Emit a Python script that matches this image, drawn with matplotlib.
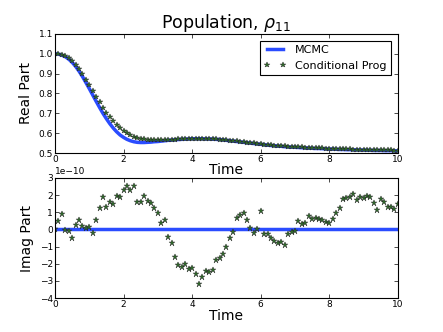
import matplotlib
matplotlib.use("Agg")
import matplotlib.pyplot as plt
import numpy as np

# time grid (step 0.1)
t = np.round(np.arange(0, 101) * 0.1, 1)

cond_real = [
    1.000, 0.999, 0.995, 0.988, 0.977, 0.962, 0.944, 0.922, 0.897, 0.870,
    0.842, 0.813, 0.784, 0.755, 0.728, 0.703, 0.680, 0.659, 0.641, 0.625,
    0.611, 0.600, 0.590, 0.583, 0.577, 0.572, 0.569, 0.566, 0.565, 0.564,
    0.564, 0.564, 0.565, 0.566, 0.567, 0.568, 0.569, 0.570, 0.571, 0.572,
    0.572, 0.573, 0.573, 0.573, 0.572, 0.572, 0.571, 0.570, 0.568, 0.567,
    0.565, 0.563, 0.561, 0.559, 0.557, 0.555, 0.553, 0.551, 0.549, 0.547,
    0.545, 0.543, 0.541, 0.539, 0.538, 0.536, 0.535, 0.533, 0.532, 0.531,
    0.530, 0.529, 0.528, 0.527, 0.526, 0.525, 0.524, 0.524, 0.523, 0.522,
    0.521, 0.521, 0.520, 0.519, 0.519, 0.518, 0.518, 0.517, 0.517, 0.516,
    0.516, 0.515, 0.515, 0.514, 0.514, 0.514, 0.513, 0.513, 0.513, 0.512,
    0.512,
]

mcmc_real = [
    1.000, 0.998, 0.993, 0.985, 0.973, 0.957, 0.937, 0.913, 0.886, 0.856,
    0.825, 0.793, 0.761, 0.730, 0.700, 0.673, 0.648, 0.626, 0.607, 0.591,
    0.579, 0.569, 0.562, 0.557, 0.554, 0.553, 0.553, 0.554, 0.555, 0.557,
    0.558, 0.560, 0.562, 0.564, 0.565, 0.567, 0.568, 0.569, 0.570, 0.571,
    0.572, 0.572, 0.572, 0.572, 0.571, 0.571, 0.570, 0.569, 0.568, 0.566,
    0.564, 0.562, 0.560, 0.558, 0.556, 0.554, 0.552, 0.550, 0.548, 0.546,
    0.544, 0.542, 0.540, 0.538, 0.537, 0.535, 0.534, 0.532, 0.531, 0.530,
    0.529, 0.528, 0.527, 0.526, 0.525, 0.524, 0.523, 0.523, 0.522, 0.521,
    0.520, 0.520, 0.519, 0.518, 0.518, 0.517, 0.517, 0.516, 0.516, 0.515,
    0.515, 0.514, 0.514, 0.513, 0.513, 0.513, 0.512, 0.512, 0.512, 0.511,
    0.511,
]

# imaginary part, units of 1e-10
cond_imag = [
    0.00, 0.51, 0.90, -0.01, -0.11, -0.48, 0.24, 0.57, 0.18, 0.08,
    0.14, -0.19, 0.53, 1.25, 1.89, 1.31, 1.60, 1.50, 1.95, 1.87,
    2.32, 2.51, 2.32, 2.55, 1.58, 1.58, 1.95, 1.66, 1.56, 1.25,
    0.96, 0.36, 0.53, -0.42, -0.77, -1.59, -2.05, -2.19, -2.00, -2.33,
    -2.25, -2.62, -3.16, -2.74, -2.41, -2.50, -2.39, -1.78, -1.67, -1.43,
    -1.00, -0.50, -0.15, 0.69, 0.82, 0.98, 0.57, 0.08, -0.23, 0.03,
    1.08, -0.29, -0.29, -0.50, -0.69, -0.77, -0.73, -0.91, -0.29, -0.17,
    -0.11, 0.51, 0.34, 0.36, 0.78, 0.59, 0.67, 0.59, 0.53, 0.43,
    0.39, 0.63, 0.96, 1.27, 1.76, 1.82, 1.87, 2.09, 1.74, 1.87,
    1.85, 1.93, 1.89, 1.52, 1.15, 1.78, 1.62, 1.33, 1.33, 1.17,
    1.48,
]
mcmc_imag = [0.0] * 101

blue = "#2a4cff"
star_face = "#2f6b2a"

plt.rcParams["font.family"] = "DejaVu Sans"
plt.rcParams["xtick.direction"] = "in"
plt.rcParams["ytick.direction"] = "in"
plt.rcParams["xtick.top"] = True
plt.rcParams["ytick.right"] = True
plt.rcParams["xtick.labelsize"] = 6.5
plt.rcParams["ytick.labelsize"] = 6.5

fig = plt.figure(figsize=(4.43, 3.32), dpi=100)
ax1 = fig.add_axes([0.124, 0.539, 0.774, 0.359])
ax2 = fig.add_axes([0.124, 0.102, 0.774, 0.362])

ax1.plot(t, mcmc_real, "-", color=blue, lw=2.5, label="MCMC")
ax1.plot(t, cond_real, "*", color=star_face, mec="#222222", mew=0.3,
         ms=4, label="Conditional Prog")
ax1.set_xlim(0, 10)
ax1.set_ylim(0.5, 1.1)
ax1.set_yticks(np.arange(0.5, 1.11, 0.1))
ax1.set_xlabel("Time", fontsize=10, labelpad=-1)
ax1.set_ylabel("Real Part", fontsize=10)
ax1.set_title(r"Population, $\rho_{11}$", fontsize=12.5, pad=2)
leg = ax1.legend(loc="upper right", numpoints=2, fontsize=8, fancybox=False,
                 edgecolor="black", framealpha=1, borderaxespad=0.6)
leg.get_frame().set_linewidth(0.8)

ax2.plot(t, np.array(mcmc_imag) * 1e-10, "-", color=blue, lw=2.5)
ax2.plot(t, np.array(cond_imag) * 1e-10, "*", color=star_face, mec="#222222",
         mew=0.3, ms=5)
ax2.set_xlim(0, 10)
ax2.set_ylim(-4e-10, 3e-10)
ax2.set_yticks(np.arange(-4, 4) * 1e-10)
ax2.set_xlabel("Time", fontsize=10, labelpad=0)
ax2.set_ylabel("Imag Part", fontsize=10)
ax2.yaxis.get_offset_text().set_fontsize(6.5)

for ax in (ax1, ax2):
    ax.set_xticks([0, 2, 4, 6, 8, 10])
    ax.tick_params(length=3, width=0.5, pad=1.5)
    for s in ax.spines.values():
        s.set_linewidth(0.8)

fig.savefig("out.png", dpi=100)
